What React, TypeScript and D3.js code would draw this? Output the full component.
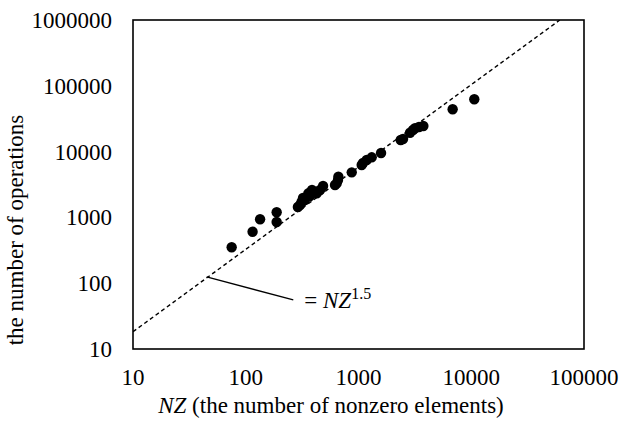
import React from 'react';
import * as d3 from 'd3';

// number of nonzero elements vs. number of operations
const nzValues = [
  75, 115, 134, 188, 188, 290, 303, 313, 322, 335, 359, 371, 387, 426, 456, 485,
  619, 641, 658, 663, 871, 1067, 1096, 1182, 1310, 1585, 2367, 2483, 2864, 3043,
  3171, 3442, 3759, 6839, 10640,
];
const opValues = [
  352, 606, 936, 1196, 851, 1440, 1543, 1733, 1972, 1837, 2323, 2113, 2608, 2323, 2608, 3000,
  3105, 3296, 3700, 4154, 4842, 6252, 6709, 7452, 8190, 9524, 15000, 15520, 19350, 21300,
  22600, 23650, 24500, 43950, 62370,
];

const xTicks = [10, 100, 1000, 10000, 100000];
const yTicks = [10, 100, 1000, 10000, 100000, 1000000];

// dashed reference line end points (as drawn)
const refNZ = [10, 61000];
const refOps = [18.3, 1000000];

// leader line of the annotation: from the reference line to the label
const leaderNZ = [45, 264];
const leaderOps = [125, 55.6];

const W = 619;
const H = 424;
const margin = { top: 20, right: 35, bottom: 75, left: 133 };
const txt = { fontFamily: 'Liberation Serif, serif' };
const FS = 23;

export default function App() {
  const x = d3.scaleLog().domain([10, 100000]).range([margin.left, W - margin.right]);
  const y = d3.scaleLog().domain([10, 1000000]).range([H - margin.bottom, margin.top]);

  const line = d3.line<number>()
    .x((_, i) => x(refNZ[i]))
    .y(d => y(d));

  const lx = x(leaderNZ[1]);
  const ly = y(leaderOps[1]);

  return (
    <svg width={W} height={H} style={{ position: 'absolute', left: 0, top: 0, background: '#fff' }}>
      <rect x={0} y={0} width={W} height={H} fill="#fff" />

      {/* dashed fit line, clipped to plot box */}
      <defs>
        <clipPath id="plot">
          <rect x={margin.left} y={margin.top} width={W - margin.left - margin.right}
            height={H - margin.top - margin.bottom} />
        </clipPath>
      </defs>
      <path d={line(refOps) || ''} fill="none" stroke="#000" strokeWidth={1.4}
        strokeDasharray="4,3" clipPath="url(#plot)" />

      {nzValues.map((nz, i) => (
        <circle key={i} cx={x(nz)} cy={y(opValues[i])} r={5.2} fill="#000" />
      ))}

      {/* annotation */}
      <line x1={x(leaderNZ[0])} y1={y(leaderOps[0])} x2={lx} y2={ly} stroke="#000" strokeWidth={1.3} />
      <text x={lx + 11} y={ly + 8} fontSize={FS} style={txt}>
        = <tspan fontStyle="italic">NZ</tspan>
        <tspan fontSize={16} dy={-9}>1.5</tspan>
      </text>

      {/* plot box */}
      <rect x={margin.left} y={margin.top} width={W - margin.left - margin.right}
        height={H - margin.top - margin.bottom} fill="none" stroke="#000" strokeWidth={1.6} />

      {yTicks.map(t => (
        <text key={t} x={112} y={y(t)} dy="0.35em" textAnchor="end" fontSize={FS} style={txt}>{t}</text>
      ))}
      {xTicks.map(t => (
        <text key={t} x={x(t)} y={385} textAnchor="middle" fontSize={FS} style={txt}>{t}</text>
      ))}

      <text x={331} y={413} textAnchor="middle" fontSize={FS} style={txt}>
        <tspan fontStyle="italic">NZ</tspan> (the number of nonzero elements)
      </text>
      <text transform={`translate(23,230) rotate(-90)`} textAnchor="middle" fontSize={FS} style={txt}>
        the number of operations
      </text>
    </svg>
  );
}
